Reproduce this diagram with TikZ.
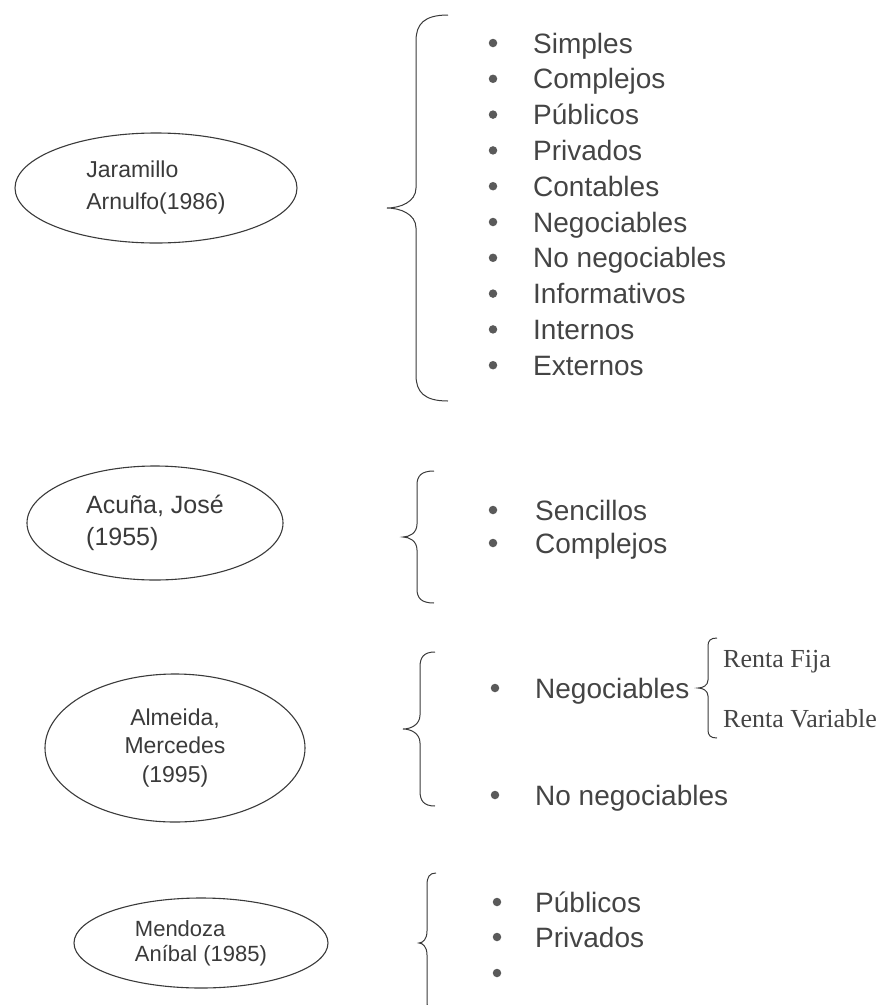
\documentclass[tikz,border=0pt]{standalone}
\usepackage{fontspec}
\setmainfont{Liberation Sans}
\newfontfamily\timesf{Liberation Serif}
\usetikzlibrary{shapes.geometric}
\definecolor{ink}{HTML}{3A3A3A}
\definecolor{txt}{HTML}{444444}
\definecolor{bulc}{HTML}{5A5A5A}
\newcommand{\mybrace}[8]{% xv, top, mid, bot, xtip, xend, r (end hook), h (tip half height)
  \draw[bracel] (#6,#2) .. controls ({#1+(#6-#1)*0.25},#2) and (#1,{#2+#7*0.35}) .. (#1,{#2+#7})
    -- (#1,{#3-#8})
    .. controls (#1,{#3-#8*0.3}) and ({#5+(#1-#5)*0.45},#3) .. (#5,#3)
    .. controls ({#5+(#1-#5)*0.45},#3) and (#1,{#3+#8*0.3}) .. (#1,{#3+#8})
    -- (#1,{#4-#7}) .. controls (#1,{#4-#7*0.35}) and ({#1+(#6-#1)*0.25},#4) .. (#6,#4);}
\begin{document}
\begin{tikzpicture}[x=1pt,y=-1pt,
  oval/.style={draw=ink, line width=1.1pt, ellipse, inner sep=0pt, text=ink},
  bracel/.style={draw=ink, line width=1pt},
  bul/.style={circle, fill=bulc, inner sep=0pt, minimum size=8.5pt},
  item/.style={anchor=base west, inner sep=0pt, text=txt, font=\fontsize{28}{34}\selectfont},
  sub/.style={anchor=base west, inner sep=0pt, text=txt, font=\timesf\fontsize{26}{30}\selectfont}]
\useasboundingbox (0,0) rectangle (888,1005);
% ---------- Section 1 ----------
\node[oval, minimum width=282pt, minimum height=110pt, align=left,
      font=\fontsize{23}{32}\selectfont] (e1) at (156,188) {Jaramillo\\Arnulfo(1986)};
\mybrace{416}{15}{208}{401}{387}{448}{26}{20}
\foreach \t [count=\i from 0] in {Simples,Complejos,Públicos,Privados,Contables,Negociables,No negociables,Informativos,Internos,Externos}{
  \node[bul] (a\i) at (493,{43+35.8*\i}) {};
  \node[item] (t\i) at (533,{43+35.8*\i+10}) {\t};
}
% ---------- Section 2 ----------
\node[oval, minimum width=256pt, minimum height=114pt, align=left,
      font=\fontsize{25}{32}\selectfont] (e2) at (155,523) {Acuña, José\\(1955)};
\mybrace{417}{471}{537}{603}{403}{434}{14}{13}
\node[bul] (s1) at (493,510) {};
\node[item] (u1) at (535,520) {Sencillos};
\node[bul] (s2) at (493,543) {};
\node[item] (u2) at (535,553) {Complejos};
% ---------- Section 3 ----------
\node[oval, minimum width=260pt, minimum height=148pt, align=center,
      font=\fontsize{23}{28.5}\selectfont] (e3) at (175,748) {Almeida,\\Mercedes\\(1995)};
\mybrace{420}{652}{729}{806}{403}{435}{15}{14}
\node[bul] (n1) at (495,688) {};
\node[item] (v1) at (535,698) {Negociables};
\mybrace{708}{638}{688}{738}{698}{717}{8}{8}
\node[sub] (r1) at (723,667) {Renta Fija};
\node[sub] (r2) at (723,727) {Renta Variable};
\node[bul] (n2) at (495,795) {};
\node[item] (v2) at (535,805) {No negociables};
% ---------- Section 4 ----------
\node[oval, minimum width=254pt, minimum height=90pt, align=left,
      font=\fontsize{22}{25}\selectfont] (e4) at (201,943) {Mendoza\\Aníbal (1985)};
\mybrace{427}{873}{943}{1013}{419}{436}{12}{12}
\node[bul] (m1) at (497,902) {};
\node[item] (w1) at (535,912) {Públicos};
\node[bul] (m2) at (497,937) {};
\node[item] (w2) at (535,947) {Privados};
\node[bul] (m3) at (497,973) {};
\end{tikzpicture}
\end{document}
